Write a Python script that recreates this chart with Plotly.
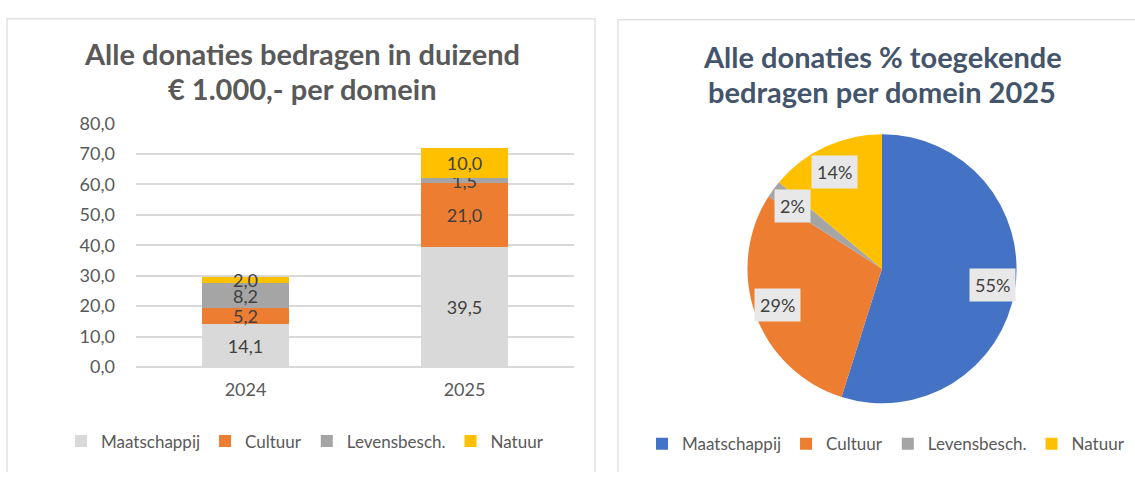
import math
import plotly.graph_objects as go

# ---------------- data ----------------
years = ["2024", "2025"]
domains = ["Maatschappij", "Cultuur", "Levensbesch.", "Natuur"]
maatschappij = [14.1, 39.5]
cultuur = [5.2, 21.0]
levensbesch = [8.2, 1.5]
natuur = [2.0, 10.0]
pie_values_2025 = [39.5, 21.0, 1.5, 10.0]
y_ticks = [0, 10, 20, 30, 40, 50, 60, 70, 80]

bar_title = ["Alle donaties bedragen in duizend", "€ 1.000,- per domein"]
pie_title = ["Alle donaties % toegekende", "bedragen per domein 2025"]

bar_colors = ["#D9D9D9", "#ED7D31", "#A5A5A5", "#FFC000"]
pie_colors = ["#4472C4", "#ED7D31", "#A5A5A5", "#FFC000"]

# ---------------- geometry helpers ----------------
W, H = 1135, 480
def px(x):
    return x / W
def py(y):
    return 1 - y / H

FONT = "Lato, Calibri, Carlito, sans-serif"
GREY_TXT = "#595959"

fig = go.Figure()

series = [maatschappij, cultuur, levensbesch, natuur]
for name, vals, col in zip(domains, series, bar_colors):
    fig.add_trace(go.Bar(
        x=years, y=vals, name=name,
        marker=dict(color=col, line=dict(width=0)),
        texttemplate="%{y:.1f}", textposition="inside",
        insidetextanchor="middle",
        textfont=dict(family=FONT, size=18, color="#404040"),
        legend="legend", cliponaxis=False,
    ))

# pie
pie_x0, pie_x1 = 741, 1023
pie_y0, pie_y1 = 128, 410
fig.add_trace(go.Pie(
    labels=domains, values=pie_values_2025,
    marker=dict(colors=pie_colors, line=dict(width=0)),
    sort=False, direction="clockwise", rotation=0,
    textinfo="none", hoverinfo="label+percent",
    domain=dict(x=[px(pie_x0), px(pie_x1)], y=[py(pie_y1), py(pie_y0)]),
    legend="legend2",
))

# pie percentage labels (boxed), positioned from the data angles
cx = (pie_x0 + pie_x1) / 2
cy = (pie_y0 + pie_y1) / 2
R = (pie_x1 - pie_x0) / 2
total = sum(pie_values_2025)
cum = 0.0
annotations = []
for v in pie_values_2025:
    mid = (cum + v / 2) / total
    cum += v
    th = 2 * math.pi * mid
    lx = cx + math.sin(th) * 0.79 * R
    ly = cy - math.cos(th) * 0.79 * R
    annotations.append(dict(
        x=px(lx), y=py(ly), xref="paper", yref="paper",
        text=f"{round(100 * v / total)}%", showarrow=False,
        font=dict(family=FONT, size=18, color="#404040"),
        bgcolor="#E8E8E8", borderpad=5,
        xanchor="center", yanchor="middle",
    ))

# titles
for t, y in zip(bar_title, [43, 80]):
    annotations.append(dict(
        x=px(302), y=py(y), xref="paper", yref="paper", text=f"<b>{t}</b>",
        showarrow=False, xanchor="center", yanchor="middle",
        font=dict(family=FONT, size=29, color=GREY_TXT),
    ))
for t, y in zip(pie_title, [47, 83]):
    annotations.append(dict(
        x=px(882), y=py(y), xref="paper", yref="paper", text=f"<b>{t}</b>",
        showarrow=False, xanchor="center", yanchor="middle",
        font=dict(family=FONT, size=29, color="#44546A"),
    ))

# panel borders
border = dict(color="#E2E2E2", width=1.5)
shapes = [
    dict(type="path", xref="paper", yref="paper",
         path=f"M {px(7)},{py(482)} L {px(7)},{py(7)} L {px(595)},{py(7)} L {px(595)},{py(482)}",
         line=border),
    dict(type="path", xref="paper", yref="paper",
         path=f"M {px(618)},{py(482)} L {px(618)},{py(8)} L {px(1137)},{py(8)}",
         line=border),
]

fig.update_layout(
    width=W, height=H,
    margin=dict(l=0, r=0, t=0, b=0),
    paper_bgcolor="white", plot_bgcolor="white",
    separators=",.",
    barmode="stack", bargap=0.6,
    font=dict(family=FONT, color=GREY_TXT),
    xaxis=dict(domain=[px(136), px(574)], type="category",
               showgrid=False, zeroline=False, showline=False,
               tickfont=dict(family=FONT, size=18, color=GREY_TXT),
               ticks="", ticklabelstandoff=10),
    yaxis=dict(domain=[py(372), py(117)], range=[0, 80],
               tickvals=y_ticks, tickformat=".1f",
               showgrid=True, gridcolor="#D9D9D9", gridwidth=1.5,
               zeroline=True, zerolinecolor="#D9D9D9", zerolinewidth=1.5,
               showline=False, ticks="",
               tickfont=dict(family=FONT, size=18, color=GREY_TXT),
               ticklabelstandoff=20),
    legend=dict(orientation="h", x=px(305), xanchor="center",
                y=py(450), yanchor="middle",
                font=dict(family=FONT, size=17, color=GREY_TXT),
                itemwidth=30, traceorder="normal", bgcolor="rgba(0,0,0,0)"),
    legend2=dict(orientation="h", x=px(886), xanchor="center",
                 y=py(453), yanchor="middle",
                 font=dict(family=FONT, size=17, color=GREY_TXT),
                 itemwidth=30, traceorder="normal", bgcolor="rgba(0,0,0,0)"),
    uniformtext=dict(minsize=18, mode="show"),
    annotations=annotations,
    shapes=shapes,
    showlegend=True,
)

fig.write_html(
    "out.html",
    config={"displayModeBar": False},
    post_script="document.body.style.margin='0';document.body.style.overflow='hidden';",
)
